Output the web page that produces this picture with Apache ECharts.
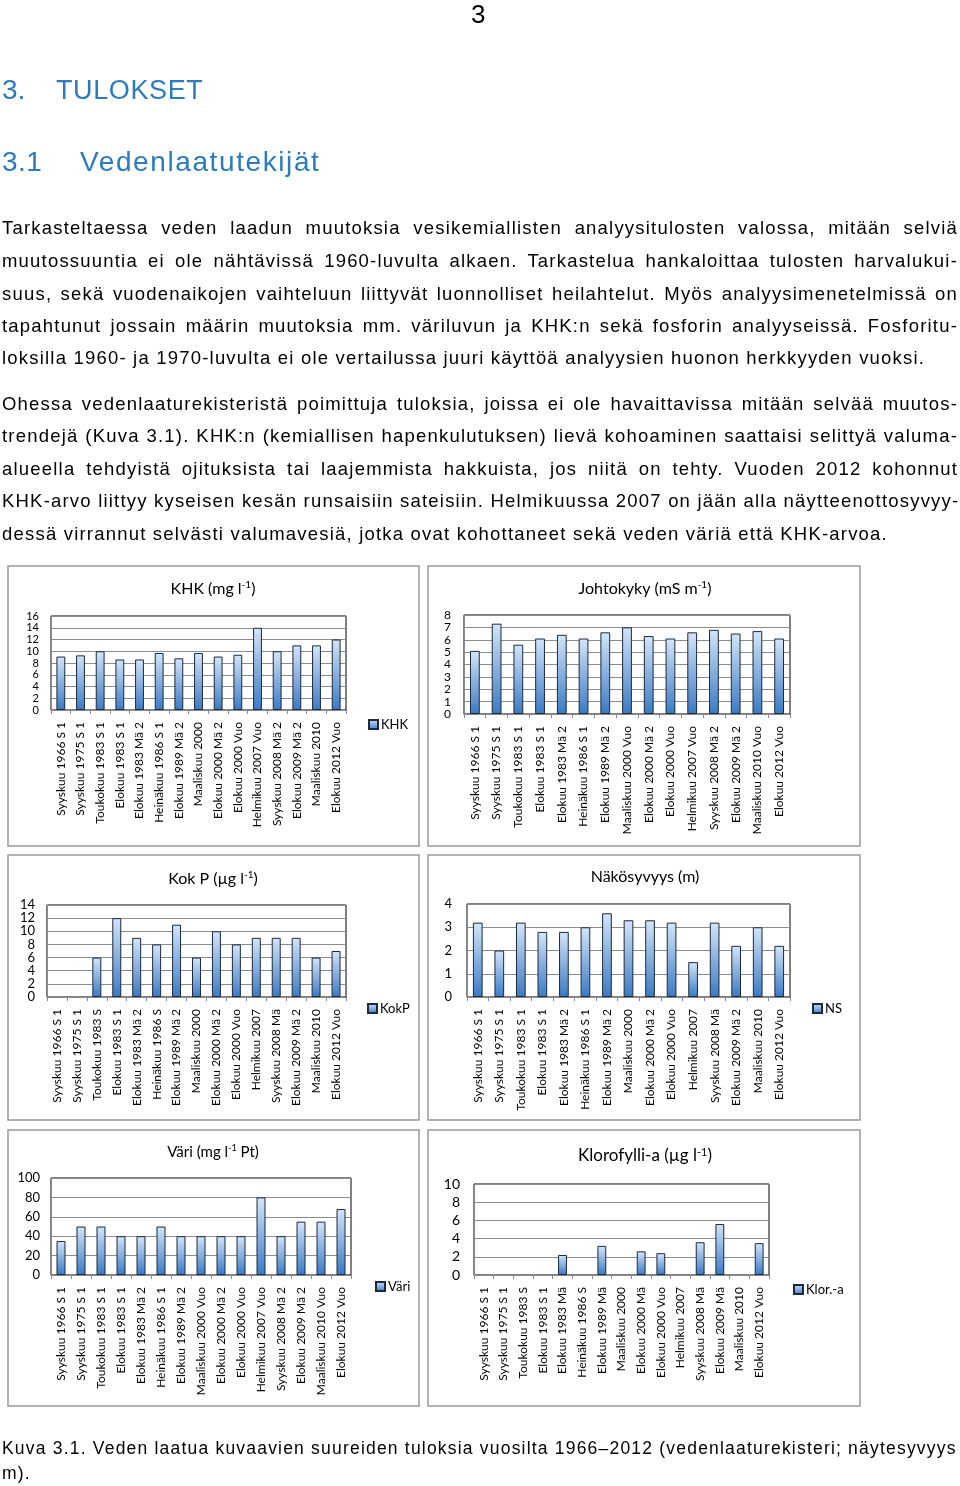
<!DOCTYPE html>
<html>
<head>
<meta charset="utf-8">
<title>3. TULOKSET</title>
<script src="https://cdn.jsdelivr.net/npm/echarts@6/dist/echarts.min.js"></script>
<style>
  body { margin: 0; background: #fff; }
  #page { position: relative; width: 960px; height: 1486px; overflow: hidden; }
  #charts { position: absolute; left: 0; top: 0; width: 960px; height: 1486px; }
  .t { position: absolute; z-index: 2; white-space: nowrap; font-family: "Liberation Sans", Arial, sans-serif; color: #000; }
  .p { left: 2px; width: 956px; font-size: 18.5px; letter-spacing: 1.2px; line-height: 24px; text-align: justify; }
  .j { text-align-last: justify; }
  .h { font-size: 28px; line-height: 34px; color: #2c7bbd; }
</style>
</head>
<body>
<div id="page">
  <div id="charts"></div>

  <div class="t" style="left:471px;top:0px;font-size:26px;line-height:28px;">3</div>
  <div class="t h" style="left:2px;top:73px;">3.</div>
  <div class="t h" style="left:56px;top:73px;font-size:27px;letter-spacing:0.6px;">TULOKSET</div>
  <div class="t h" style="left:2px;top:145px;letter-spacing:0.5px;">3.1</div>
  <div class="t h" style="left:80px;top:145px;letter-spacing:1.6px;">Vedenlaatutekijät</div>

  <div class="t p j" style="top:216px;">Tarkasteltaessa veden laadun muutoksia vesikemiallisten analyysitulosten valossa, mitään selviä</div>
  <div class="t p j" style="top:249px;">muutossuuntia ei ole nähtävissä 1960-luvulta alkaen. Tarkastelua hankaloittaa tulosten harvalukui-</div>
  <div class="t p j" style="top:282px;">suus, sekä vuodenaikojen vaihteluun liittyvät luonnolliset heilahtelut. Myös analyysimenetelmissä on</div>
  <div class="t p j" style="top:314px;">tapahtunut jossain määrin muutoksia mm. väriluvun ja KHK:n sekä fosforin analyyseissä. Fosforitu-</div>
  <div class="t p" style="top:346px;">loksilla 1960- ja 1970-luvulta ei ole vertailussa juuri käyttöä analyysien huonon herkkyyden vuoksi.</div>

  <div class="t p j" style="top:392px;">Ohessa vedenlaaturekisteristä poimittuja tuloksia, joissa ei ole havaittavissa mitään selvää muutos-</div>
  <div class="t p j" style="top:424px;">trendejä (Kuva 3.1). KHK:n (kemiallisen hapenkulutuksen) lievä kohoaminen saattaisi selittyä valuma-</div>
  <div class="t p j" style="top:457px;">alueella tehdyistä ojituksista tai laajemmista hakkuista, jos niitä on tehty. Vuoden 2012 kohonnut</div>
  <div class="t p j" style="top:489px;">KHK-arvo liittyy kyseisen kesän runsaisiin sateisiin. Helmikuussa 2007 on jään alla näytteenottosyvyy-</div>
  <div class="t p" style="top:522px;">dessä virrannut selvästi valumavesiä, jotka ovat kohottaneet sekä veden väriä että KHK-arvoa.</div>

  <div class="t p j" style="top:1436px;font-size:17.5px;">Kuva 3.1. Veden laatua kuvaavien suureiden tuloksia vuosilta 1966–2012 (vedenlaaturekisteri; näytesyvyys 1</div>
  <div class="t p" style="top:1461px;font-size:17.5px;">m).</div>
</div>

<script>
// näytepäivät (akselin tekstit katkeavat eri kuvissa eri kohdasta)
var catsKhk = ['Syyskuu 1966 S 1', 'Syyskuu 1975 S 1', 'Toukokuu 1983 S 1', 'Elokuu 1983 S 1', 'Elokuu 1983 Mä 2', 'Heinäkuu 1986 S 1', 'Elokuu 1989 Mä 2', 'Maaliskuu 2000', 'Elokuu 2000 Mä 2', 'Elokuu 2000 Vuo', 'Helmikuu 2007 Vuo', 'Syyskuu 2008 Mä 2', 'Elokuu 2009 Mä 2', 'Maaliskuu 2010', 'Elokuu 2012 Vuo']
var catsJoht = ['Syyskuu 1966 S 1', 'Syyskuu 1975 S 1', 'Toukokuu 1983 S 1', 'Elokuu 1983 S 1', 'Elokuu 1983 Mä 2', 'Heinäkuu 1986 S 1', 'Elokuu 1989 Mä 2', 'Maaliskuu 2000 Vuo', 'Elokuu 2000 Mä 2', 'Elokuu 2000 Vuo', 'Helmikuu 2007 Vuo', 'Syyskuu 2008 Mä 2', 'Elokuu 2009 Mä 2', 'Maaliskuu 2010 Vuo', 'Elokuu 2012 Vuo']
var catsKokP = ['Syyskuu 1966 S 1', 'Syyskuu 1975 S 1', 'Toukokuu 1983 S', 'Elokuu 1983 S 1', 'Elokuu 1983 Mä 2', 'Heinäkuu 1986 S', 'Elokuu 1989 Mä 2', 'Maaliskuu 2000', 'Elokuu 2000 Mä 2', 'Elokuu 2000 Vuo', 'Helmikuu 2007', 'Syyskuu 2008 Mä', 'Elokuu 2009 Mä 2', 'Maaliskuu 2010', 'Elokuu 2012 Vuo']
var catsNs = ['Syyskuu 1966 S 1', 'Syyskuu 1975 S 1', 'Toukokuu 1983 S 1', 'Elokuu 1983 S 1', 'Elokuu 1983 Mä 2', 'Heinäkuu 1986 S 1', 'Elokuu 1989 Mä 2', 'Maaliskuu 2000', 'Elokuu 2000 Mä 2', 'Elokuu 2000 Vuo', 'Helmikuu 2007', 'Syyskuu 2008 Mä', 'Elokuu 2009 Mä 2', 'Maaliskuu 2010', 'Elokuu 2012 Vuo']
var catsVari = ['Syyskuu 1966 S 1', 'Syyskuu 1975 S 1', 'Toukokuu 1983 S 1', 'Elokuu 1983 S 1', 'Elokuu 1983 Mä 2', 'Heinäkuu 1986 S 1', 'Elokuu 1989 Mä 2', 'Maaliskuu 2000 Vuo', 'Elokuu 2000 Mä 2', 'Elokuu 2000 Vuo', 'Helmikuu 2007 Vuo', 'Syyskuu 2008 Mä 2', 'Elokuu 2009 Mä 2', 'Maaliskuu 2010 Vuo', 'Elokuu 2012 Vuo']
var catsKlor = ['Syyskuu 1966 S 1', 'Syyskuu 1975 S 1', 'Toukokuu 1983 S', 'Elokuu 1983 S 1', 'Elokuu 1983 Mä', 'Heinäkuu 1986 S', 'Elokuu 1989 Mä', 'Maaliskuu 2000', 'Elokuu 2000 Mä', 'Elokuu 2000 Vuo', 'Helmikuu 2007', 'Syyskuu 2008 Mä', 'Elokuu 2009 Mä', 'Maaliskuu 2010', 'Elokuu 2012 Vuo']

// arvot kuvasta luettuna
var khk = [9.1, 9.3, 10, 8.6, 8.6, 9.7, 8.8, 9.7, 9.1, 9.4, 14, 10, 11, 11, 12]
var johtokyky = [5.1, 7.3, 5.6, 6.1, 6.4, 6.1, 6.6, 7.0, 6.3, 6.1, 6.6, 6.8, 6.5, 6.7, 6.1]
var kokP = [null, null, 6, 12, 9, 8, 11, 6, 10, 8, 9, 9, 9, 6, 7]
var ns = [3.2, 2.0, 3.2, 2.8, 2.8, 3.0, 3.6, 3.3, 3.3, 3.2, 1.5, 3.2, 2.2, 3.0, 2.2]
var vari = [35, 50, 50, 40, 40, 50, 40, 40, 40, 40, 80, 40, 55, 55, 68]
var klor = [null, null, null, null, 2.2, null, 3.2, null, 2.6, 2.4, null, 3.6, 5.6, null, 3.5]

// y-akselit: [min, max, väli]
var yKhk = [0, 16, 2]
var yJoht = [0, 8, 1]
var yKokP = [0, 14, 2]
var yNs = [0, 4, 1]
var yVari = [0, 100, 20]
var yKlor = [0, 10, 2]

var FONT = 'Lato'

var panels = [
  { name: 'KHK', title: ['KHK (mg l', '-1', ')'], cats: catsKhk, data: khk, y: yKhk, box: [8, 566, 411, 280], grid: [51, 616, 295, 94], legend: [368, 718], tx: 213, ty: 589, ts: 16, ys: 11, ym: 12 },
  { name: 'Johtokyky', title: ['Johtokyky (mS m', '-1', ')'], cats: catsJoht, data: johtokyky, y: yJoht, box: [428, 566, 432, 280], grid: [464, 615, 326, 99], legend: null, tx: 645, ty: 589, ts: 16, ys: 12, ym: 13 },
  { name: 'KokP', title: ['Kok P (µg l', '-1', ')'], cats: catsKokP, data: kokP, y: yKokP, box: [8, 855, 411, 265], grid: [47, 905, 299, 92], legend: [367, 1002], tx: 213, ty: 879, ts: 16, ys: 13, ym: 12 },
  { name: 'NS', title: ['Näkösyvyys (m)', '', ''], cats: catsNs, data: ns, y: yNs, box: [428, 855, 432, 265], grid: [467, 904, 323, 93], legend: [812, 1002], tx: 645, ty: 877, ts: 16, ys: 13, ym: 15 },
  { name: 'Väri', title: ['Väri (mg l', '-1', ' Pt)'], cats: catsVari, data: vari, y: yVari, box: [8, 1130, 411, 276], grid: [51, 1178, 300, 97], legend: [375, 1280], tx: 213, ty: 1152, ts: 15, ys: 13, ym: 11 },
  { name: 'Klor.-a', title: ['Klorofylli-a (µg l', '-1', ')'], cats: catsKlor, data: klor, y: yKlor, box: [428, 1130, 432, 276], grid: [474, 1184, 295, 91], legend: [793, 1283], tx: 645, ty: 1156, ts: 17, ys: 14, ym: 14 }
]

var barFill = new echarts.graphic.LinearGradient(0, 0, 0, 1, [
  { offset: 0, color: '#d4e5f9' },
  { offset: 1, color: '#3a7ac4' }
])

var grids = [], xAxes = [], yAxes = [], series = [], legends = [], graphics = []

panels.forEach(function(p, i) {
  // kaavion reunus
  graphics.push({
    type: 'rect',
    shape: { x: p.box[0], y: p.box[1], width: p.box[2], height: p.box[3] },
    style: { fill: null, stroke: '#9a9a9a', lineWidth: 1.5 },
    z: 0
  })
  // otsikko yläindeksillä
  graphics.push({
    type: 'text',
    x: p.tx,
    y: p.ty,
    style: {
      text: '{a|' + p.title[0] + '}' + (p.title[1] ? '{s|' + p.title[1] + '}' : '') + (p.title[2] ? '{a|' + p.title[2] + '}' : ''),
      align: 'center',
      verticalAlign: 'middle',
      rich: {
        a: { fontFamily: FONT, fontSize: p.ts, fill: '#000' },
        s: { fontFamily: FONT, fontSize: Math.round(p.ts * 0.62), fill: '#000', verticalAlign: 'top', padding: [0, 0, 8, 0] }
      }
    }
  })
  grids.push({
    left: p.grid[0],
    top: p.grid[1],
    width: p.grid[2],
    height: p.grid[3],
    show: true,
    borderColor: '#000',
    borderWidth: 1,
    containLabel: false
  })
  xAxes.push({
    type: 'category',
    gridIndex: i,
    data: p.cats,
    axisLine: { lineStyle: { color: '#8a8a8a', width: 1 } },
    axisTick: { show: true, length: 4, lineStyle: { color: '#8a8a8a' } },
    axisLabel: { interval: 0, rotate: 90, margin: 12, fontFamily: FONT, fontSize: 12, color: '#000' }
  })
  // tiheät asteikot: fonttikoko pienempi kuin väli, ettei ECharts piilota lukuja
  yAxes.push({
    type: 'value',
    gridIndex: i,
    min: p.y[0],
    max: p.y[1],
    interval: p.y[2],
    axisLine: { show: true, lineStyle: { color: '#8a8a8a' } },
    axisTick: { show: false },
    axisLabel: {
      margin: p.ym,
      fontFamily: FONT,
      fontSize: p.ys,
      lineHeight: p.ys,
      color: '#000',
      showMinLabel: true,
      showMaxLabel: true,
      hideOverlap: false
    },
    splitLine: { lineStyle: { color: '#8c8c8c', width: 1 } }
  })
  series.push({
    name: p.name,
    type: 'bar',
    xAxisIndex: i,
    yAxisIndex: i,
    barWidth: '45%',
    data: p.data,
    itemStyle: { color: barFill, borderColor: '#1b2a3e', borderWidth: 1 }
  })
  if (p.legend) {
    legends.push({
      data: [p.name],
      left: p.legend[0],
      top: p.legend[1],
      icon: 'rect',
      itemWidth: 9,
      itemHeight: 9,
      itemGap: 4,
      padding: 0,
      textStyle: { fontFamily: FONT, fontSize: 13, color: '#000', padding: [0, 0, 0, -2] }
    })
  }
})

var myChart = echarts.init(document.getElementById('charts'))
var option = {
  animation: false,
  grid: grids,
  xAxis: xAxes,
  yAxis: yAxes,
  legend: legends,
  series: series,
  graphic: graphics
}
option && myChart.setOption(option)
</script>
</body>
</html>
